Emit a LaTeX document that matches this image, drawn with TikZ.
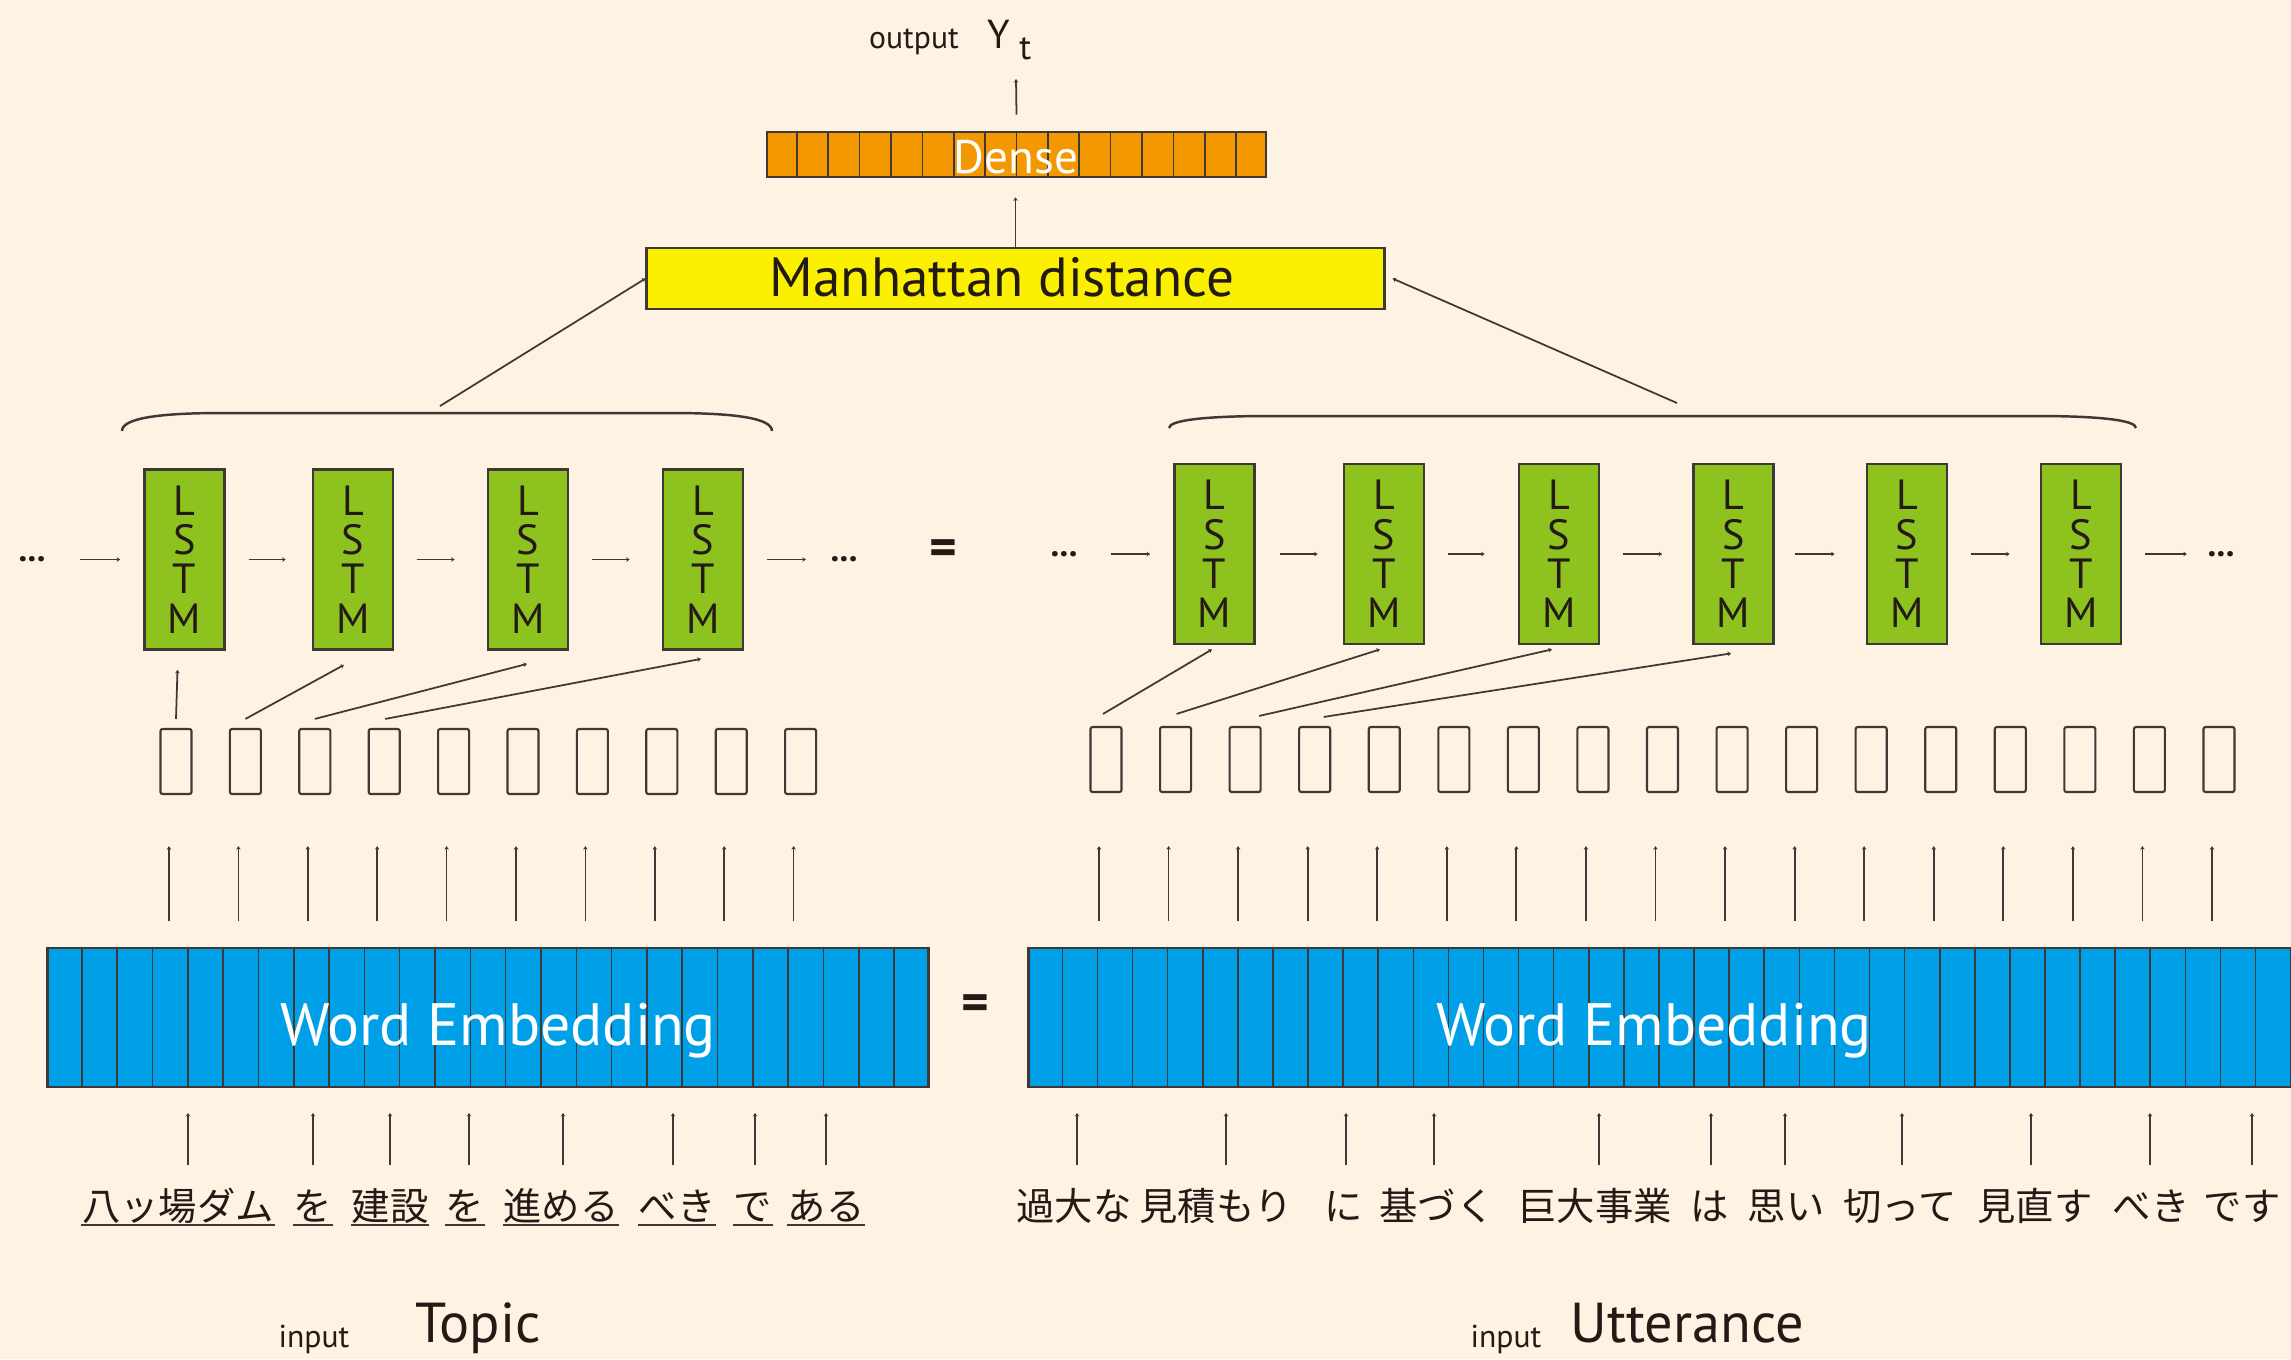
\documentclass[tikz,border=0pt]{standalone}
\usepackage{fontspec}
\setmainfont{PT Sans}
\newfontfamily\jpfont{Noto Sans CJK JP}
\usetikzlibrary{arrows.meta,calc}

\definecolor{paper}{RGB}{254,243,227}
\definecolor{ink}{RGB}{62,57,54}
\definecolor{textink}{RGB}{35,26,22}
\definecolor{denseorange}{RGB}{243,152,0}
\definecolor{distyellow}{RGB}{250,240,0}
\definecolor{lstmgreen}{RGB}{141,194,31}
\definecolor{embblue}{RGB}{0,160,233}

\tikzset{
  conn/.style={draw=ink, line width=0.5pt, -{Stealth[length=1pt,width=1.3pt]}},
  lstmbox/.style={draw=ink, fill=lstmgreen, line width=0.75pt, minimum width=0.8cm,
    minimum height=1.8cm, inner sep=0pt, align=center, text=textink,
    font=\fontsize{12}{11.2}\selectfont},
  vecbox/.style={draw=ink, line width=0.6pt, minimum width=0.31cm, minimum height=0.65cm,
    inner sep=0pt, rounded corners=0.6pt},
  layerbox/.style={draw=ink, line width=0.75pt, inner sep=0pt},
  cellrule/.style={draw=ink, line width=0.45pt},
  bracepath/.style={draw=ink, line width=0.7pt},
  jpword/.style={font=\jpfont\fontsize{10.9}{13}\selectfont, inner sep=0pt, anchor=base, text=textink},
  uline/.style={draw=ink, line width=0.5pt},
  ellip/.style={font=\bfseries\fontsize{10}{12}\selectfont, inner sep=0pt, text=textink},
  eqsign/.style={font=\bfseries\fontsize{15}{18}\selectfont, inner sep=0pt, text=textink},
  caption/.style={inner sep=0pt, anchor=base, text=textink},
}

\begin{document}
\begin{tikzpicture}[x=0.01cm, y=-0.01cm]
\useasboundingbox (0,0) rectangle (2291,1359);
\clip (0,0) rectangle (2291,1359);
\fill[paper] (0,0) rectangle (2291,1359);

% ---------- output ----------
\node[caption, font=\fontsize{9}{11}\selectfont] (outlbl) at (914,48) {output};
\node[caption, anchor=base west, font=\fontsize{11.5}{14}\selectfont] (yt) at (987,48)
  {Y\hspace{2.6pt}\raisebox{-3.4pt}{\fontsize{10}{12}\selectfont t}};
\coordinate (yin) at (1016,79);

% ---------- dense layer ----------
\node[layerbox, fill=denseorange, minimum width=4.99cm, minimum height=0.45cm] (dense) at (1016.5,154.5) {};
\foreach \k in {1,...,15}
  \draw[cellrule] ($(dense.north west)!\k/16!(dense.north east)$) -- ($(dense.south west)!\k/16!(dense.south east)$);
\node[caption, text=white, font=\fontsize{13.4}{16}\selectfont] (densetxt) at (1016,173) {Dense};

% ---------- distance layer ----------
\node[layerbox, fill=distyellow, minimum width=7.37cm, minimum height=0.61cm] (man) at (1015.5,278.5) {};
\node[caption, font=\fontsize{15.7}{18}\selectfont] (mantxt) at (1002,296) {Manhattan distance};

\draw[conn] (dense.north) ++(0,-16) -- (yin);
\draw[conn, shorten >=0.19cm] (man.north) -- (man.north |- dense.south);

% ---------- braces over the two encoders ----------
\draw[bracepath] (122,431) .. controls (122,418) and (160,413) .. (222,413) -- (672,413)
  .. controls (734,413) and (772,418) .. (772,431);
\draw[bracepath] (1169,428) .. controls (1169,420) and (1207,416) .. (1269,416) -- (2036,416)
  .. controls (2098,416) and (2136,420) .. (2136,428);
\coordinate (braceL) at (440,406);
\coordinate (braceR) at (1677,403);
\draw[conn] (braceL) -- (man.west);
\draw[conn] (braceR) -- ([xshift=0.07cm]man.east);

% ---------- LSTM chains ----------
\foreach \x [count=\k] in {184.5,353,528,703}
  \node[lstmbox] (L\k) at (\x,559.5) {L\\S\\T\\M};
\foreach \x [count=\k] in {1214.5,1384,1559,1733.5,1907,2081}
  \node[lstmbox] (R\k) at (\x,554) {L\\S\\T\\M};

\node[ellip] (dl1) at (32,559.5) {...};
\node[ellip] (dl2) at (844,559.5) {...};
\node[ellip] (dr1) at (1064,554) {...};
\node[ellip] (dr2) at (2221,554) {...};

\node[eqsign] (eqtop) at (943,553) {=};

\foreach \a/\b/\s/\e in {dl1/L1/0.34/0.23, L1/L2/0.23/0.26, L2/L3/0.23/0.32, L3/L4/0.23/0.32, L4/dl2/0.23/0.24,
    dr1/R1/0.33/0.23, R1/R2/0.24/0.25, R2/R3/0.23/0.33, R3/R4/0.23/0.30, R4/R5/0.20/0.31,
    R5/R6/0.23/0.30, R6/dr2/0.23/0.20}
  \draw[conn, shorten <=\s cm, shorten >=\e cm] (\a) -- (\b);

% ---------- token vectors ----------
\foreach \k in {1,...,10}
  \node[vecbox] (s\k) at ({176+69.4*(\k-1)},761.5) {};
\foreach \k in {1,...,17}
  \node[vecbox] (r\k) at ({1106+69.56*(\k-1)},759.5) {};

% vectors feeding the LSTM cells
\draw[conn] ([yshift=0.09cm]s1.north) -- ([xshift=-0.07cm,yshift=-0.19cm]L1.south);
\draw[conn] ([yshift=0.09cm]s2.north) -- ([xshift=-0.09cm,yshift=-0.14cm]L2.south);
\draw[conn] ([yshift=0.09cm]s3.north) -- ([xshift=-0.01cm,yshift=-0.13cm]L3.south);
\draw[conn] ([xshift=0.01cm,yshift=0.09cm]s4.north) -- ([xshift=-0.02cm,yshift=-0.08cm]L4.south);
\draw[conn] ([xshift=-0.03cm,yshift=0.12cm]r1.north) -- ([xshift=-0.025cm,yshift=-0.04cm]R1.south);
\draw[conn] ([xshift=0.01cm,yshift=0.12cm]r2.north) -- ([xshift=-0.04cm,yshift=-0.04cm]R2.south);
\draw[conn] ([xshift=0.14cm,yshift=0.10cm]r3.north) -- ([xshift=-0.07cm,yshift=-0.04cm]R3.south);
\draw[conn] ([xshift=0.09cm,yshift=0.09cm]r4.north) -- ([xshift=-0.025cm,yshift=-0.08cm]R4.south);

% ---------- word embeddings ----------
\node[layerbox, fill=embblue, minimum width=8.8cm, minimum height=1.39cm] (embL) at (488,1017.5) {};
\foreach \k in {1,...,24}
  \draw[cellrule] ($(embL.north west)!\k/25!(embL.north east)$) -- ($(embL.south west)!\k/25!(embL.south east)$);
\node[caption, text=white, font=\fontsize{17}{20}\selectfont] (embLtxt) at (498,1045) {Word Embedding};

\node[layerbox, fill=embblue, minimum width=12.95cm, minimum height=1.39cm] (embR) at (1676.5,1017.5) {};
\foreach \k in {1,...,36}
  \draw[cellrule] ($(embR.north west)!\k/37!(embR.north east)$) -- ($(embR.south west)!\k/37!(embR.south east)$);
\node[caption, text=white, font=\fontsize{17}{20}\selectfont] (embRtxt) at (1654,1045) {Word Embedding};

\node[eqsign] (eqbot) at (975,1008) {=};

% embeddings feeding the token vectors
\foreach \k in {1,...,10}
  \draw[conn] ([xshift=-0.07cm,yshift=-1.26cm]s\k.south) -- ([xshift=-0.07cm,yshift=-0.51cm]s\k.south);
\foreach \k in {1,...,17}
  \draw[conn] ([xshift=-0.07cm,yshift=-1.28cm]r\k.south) -- ([xshift=-0.07cm,yshift=-0.53cm]r\k.south);

% ---------- input words ----------
\foreach \x/\w/\dx [count=\k] in {178/八ッ場ダム/0.10, 313/を/0, 390/建設/0, 465/を/0.04,
    561/進める/0.02, 677/べき/-0.04, 753/で/0.02, 826/ある/0} {
  \node[jpword] (tw\k) at (\x,1220) {\w};
  \draw[uline] ([yshift=-0.05cm]tw\k.base west) -- ([yshift=-0.05cm]tw\k.base east);
  \draw[conn] ([xshift=\dx cm,yshift=0.55cm]tw\k.base) -- ([xshift=\dx cm,yshift=1.07cm]tw\k.base);
}
\foreach \x/\w/\dx [count=\k] in {1074/過大な/0.03, 1216/見積もり/0.10, 1344/に/0.02, 1437/基づく/-0.03,
    1595/巨大事業/0.04, 1710/は/0.01, 1786/思い/-0.01, 1900/切って/0.02, 2035/見直す/-0.04,
    2151/べき/-0.01, 2242/です/0.10} {
  \node[jpword] (uw\k) at (\x,1220) {\w};
  \draw[conn] ([xshift=\dx cm,yshift=0.55cm]uw\k.base) -- ([xshift=\dx cm,yshift=1.07cm]uw\k.base);
}

% ---------- input captions ----------
\node[caption, font=\fontsize{9}{11}\selectfont] (inL) at (314,1347) {input};
\node[caption, font=\fontsize{16}{19}\selectfont] (topic) at (478,1342) {Topic};
\node[caption, font=\fontsize{9}{11}\selectfont] (inR) at (1506,1347) {input};
\node[caption, font=\fontsize{16}{19}\selectfont] (utter) at (1687,1342) {Utterance};
\end{tikzpicture}
\end{document}
